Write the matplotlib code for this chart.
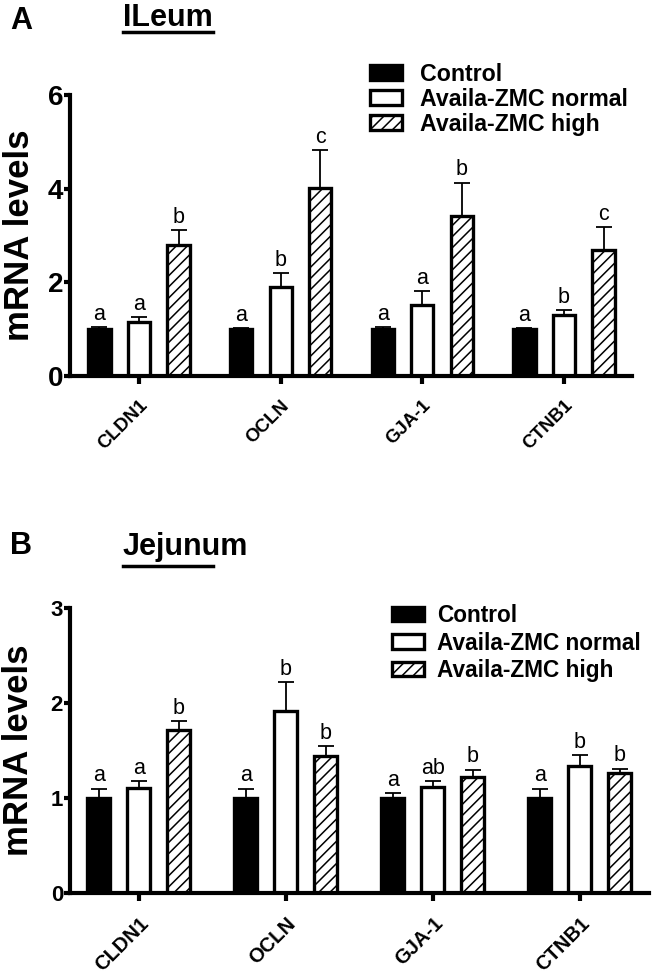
import matplotlib
matplotlib.use("Agg")
import matplotlib.pyplot as plt
import matplotlib.transforms as mtransforms
import numpy as np
from matplotlib.lines import Line2D

plt.rcParams['font.family'] = ['Liberation Sans', 'DejaVu Sans']
plt.rcParams['hatch.linewidth'] = 1.1

genes = ["CLDN1", "OCLN", "GJA-1", "CTNB1"]
groups = ["Control", "Availa-ZMC normal", "Availa-ZMC high"]

ileum_control = [1.00, 1.00, 1.00, 1.00]
ileum_control_err = [0.04, 0.03, 0.04, 0.03]
ileum_normal = [1.15, 1.90, 1.51, 1.30]
ileum_normal_err = [0.11, 0.29, 0.31, 0.10]
ileum_high = [2.79, 4.02, 3.42, 2.69]
ileum_high_err = [0.32, 0.80, 0.71, 0.49]
ileum_letters = [["a", "a", "a", "a"], ["a", "b", "a", "b"], ["b", "c", "b", "c"]]

jejunum_control = [1.00, 1.00, 1.00, 1.00]
jejunum_control_err = [0.10, 0.10, 0.05, 0.10]
jejunum_normal = [1.11, 1.92, 1.12, 1.34]
jejunum_normal_err = [0.07, 0.30, 0.06, 0.11]
jejunum_high = [1.72, 1.44, 1.22, 1.26]
jejunum_high_err = [0.09, 0.11, 0.08, 0.05]
jejunum_letters = [["a", "a", "a", "a"], ["a", "b", "ab", "b"], ["b", "b", "b", "b"]]

W, H = 654, 974
fig = plt.figure(figsize=(W / 100, H / 100), dpi=100)

def px2fig(x0, y0, x1, y1):
    return [x0 / W, 1 - y1 / H, (x1 - x0) / W, (y1 - y0) / H]

axA = fig.add_axes(px2fig(70, 95, 632, 376))
axB = fig.add_axes(px2fig(70, 608, 649, 893))

styles = [dict(facecolor="black", hatch=None),
          dict(facecolor="white", hatch=None),
          dict(facecolor="white", hatch="///")]

def draw(ax, vals, errs, letters, ymax, yticks, offset, width, xlim,
         ytick_fs, xtick_fs, letter_fs, legend_anchor, leg_spacing, xpad,
         xshift, leg_fs, leg_textpad):
    x = np.arange(len(genes))
    handles = []
    for i, (v, e) in enumerate(zip(vals, errs)):
        st = styles[i]
        bars = ax.bar(x + (i - 1) * offset, v, width=width, color=st["facecolor"],
                      edgecolor="black", linewidth=2.4, hatch=st["hatch"],
                      zorder=2, label=groups[i])
        handles.append(bars)
        ax.errorbar(x + (i - 1) * offset, v, yerr=[np.zeros(len(v)), e], fmt="none",
                    ecolor="black", elinewidth=1.3, capsize=6, capthick=1.3, zorder=3)
        for j in range(len(v)):
            ax.annotate(letters[i][j], (x[j] + (i - 1) * offset, v[j] + e[j]),
                        xytext=(0, 1.5), textcoords="offset points",
                        ha="center", va="bottom", fontsize=letter_fs)
    ax.set_ylim(0, ymax)
    ax.set_xlim(*xlim)
    ax.set_yticks(yticks)
    ax.set_yticklabels([str(t) for t in yticks], fontsize=ytick_fs, fontweight="bold")
    ax.set_xticks(x)
    ax.set_xticklabels(genes, rotation=45, ha="right", rotation_mode="anchor",
                       fontsize=xtick_fs, fontweight="bold")
    shift = mtransforms.ScaledTranslation(xshift / 100, 0, fig.dpi_scale_trans)
    for lab in ax.get_xticklabels():
        lab.set_transform(lab.get_transform() + shift)
    for s in ["top", "right"]:
        ax.spines[s].set_visible(False)
    for s in ["left", "bottom"]:
        ax.spines[s].set_linewidth(3)
    ax.tick_params(axis="y", length=4, width=3, pad=1)
    ax.tick_params(axis="x", length=6, width=3, pad=xpad)
    ax.set_ylabel("mRNA levels", fontsize=25, fontweight="bold")
    ax.yaxis.set_label_coords(-0.06, 0.5)
    leg = ax.legend(handles=handles, loc="upper left", bbox_to_anchor=legend_anchor,
                    bbox_transform=fig.transFigure, frameon=False,
                    prop=dict(weight="bold", size=leg_fs), handlelength=1.4,
                    handleheight=0.6, handletextpad=leg_textpad, labelspacing=leg_spacing,
                    borderpad=0, borderaxespad=0)
    for p in leg.get_patches():
        p.set_linewidth(2.4)

ileum_vals = [ileum_control, ileum_normal, ileum_high]
ileum_errs = [ileum_control_err, ileum_normal_err, ileum_high_err]
jej_vals = [jejunum_control, jejunum_normal, jejunum_high]
jej_errs = [jejunum_control_err, jejunum_normal_err, jejunum_high_err]

draw(axA, ileum_vals, ileum_errs, ileum_letters, 6, [0, 2, 4, 6], 0.279, 0.157,
     (-0.487, 3.48), 20, 13.5, 15.5, (370 / W, 1 - 63 / H), 0.08, 9, -12, 16.7, 0.75)
draw(axB, jej_vals, jej_errs, jejunum_letters, 3, [0, 1, 2, 3], 0.272, 0.157,
     (-0.469, 3.47), 16, 14.5, 15.5, (392 / W, 1 - 604 / H), 0.2, 9, -7, 16.3, 0.6)

fig.text(10 / W, 1 - 6 / H, "A", fontsize=22, fontweight="bold", va="top", ha="left")
fig.text(123 / W, 1 - 3 / H, "ILeum", fontsize=22, fontweight="bold", va="top", ha="left")
fig.add_artist(Line2D([123 / W, 213 / W], [1 - 32 / H, 1 - 32 / H], color="black", lw=2.5))
fig.text(10 / W, 1 - 531 / H, "B", fontsize=22, fontweight="bold", va="top", ha="left")
fig.text(123 / W, 1 - 532 / H, "Jejunum", fontsize=22, fontweight="bold", va="top", ha="left")
fig.add_artist(Line2D([123 / W, 213 / W], [1 - 566 / H, 1 - 566 / H], color="black", lw=2.5))

fig.savefig("out.png", dpi=100)
